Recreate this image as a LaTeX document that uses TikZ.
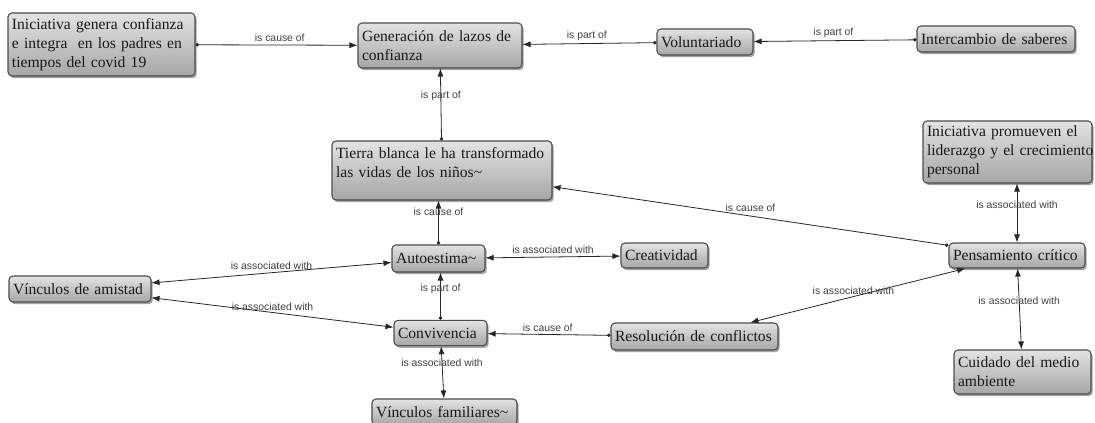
\documentclass[tikz,border=0pt]{standalone}
\usepackage{fontspec}
\setmainfont{Liberation Serif}
\newfontfamily\lblfont{Liberation Sans}
\usetikzlibrary{arrows.meta,shadows}
\begin{document}
\begin{tikzpicture}[x=0.75pt,y=-0.75pt,
  cbox/.style={draw=black!70, line width=0.8pt, rounded corners=3pt,
    top color=gray!22, bottom color=gray!70,
    drop shadow={shadow xshift=1.3pt, shadow yshift=-1.6pt, opacity=0.45, fill=black!80},
    align=left, inner xsep=3pt, inner ysep=1pt,
    font=\fontsize{11.7}{14.1}\selectfont, text=black!90},
  lbl/.style={font=\lblfont\fontsize{7.8}{9}\selectfont, text=black!75, inner sep=1pt},
  rel/.style={draw=black!85, line width=0.6pt, {Circle[length=2.6pt]}-{Latex[length=6pt,width=4.5pt]}},
  assoc/.style={draw=black!85, line width=0.6pt, {Latex[length=6pt,width=4.5pt]}-{Latex[length=6pt,width=4.5pt]}}]

\useasboundingbox[fill=white] (0,0) rectangle (1095,423);

\node[cbox, text width=134.25pt, minimum height=47.25pt] (ini1) at (101.5,44.5)
  {\mbox{Iniciativa genera confianza}\\\mbox{e integra \ en los padres en}\\tiempos del covid 19};
\node[cbox, text width=117pt, minimum height=33.75pt] (gen) at (440,45.5)
  {\mbox{Generación de lazos de}\\confianza};
\node[cbox, text width=66pt, minimum height=19.5pt] (vol) at (705,42) {\mbox{Voluntariado}};
\node[cbox, text width=112.5pt, minimum height=19.5pt] (int) at (996,39) {\mbox{Intercambio de saberes}};
\node[cbox, text width=159pt, minimum height=44.25pt] (tierra) at (442,170.5)
  {\mbox{Tierra blanca le ha transformado}\\\mbox{las vidas de los niños\textasciitilde}\par\vspace*{12pt}};
\node[cbox, text width=120.75pt, minimum height=46.5pt] (iniP) at (1007.5,152)
  {\mbox{Iniciativa promueven el}\\\mbox{liderazgo y el crecimiento}\\personal};
\node[cbox, text width=96pt, minimum height=18.75pt] (pens) at (1017,255.5) {\mbox{Pensamiento crítico}};
\node[cbox, text width=63.75pt, minimum height=20.25pt] (aut) at (438.5,258.5) {\mbox{Autoestima\textasciitilde}};
\node[cbox, text width=59.25pt, minimum height=18.75pt] (creat) at (664.5,255.5) {\mbox{Creatividad}};
\node[cbox, text width=100.5pt, minimum height=19.5pt] (amistad) at (80,289) {\mbox{Vínculos de amistad}};
\node[cbox, text width=63.75pt, minimum height=19pt] (conv) at (440.5,333) {\mbox{Convivencia}};
\node[cbox, text width=119.25pt, minimum height=20.25pt] (res) at (694.5,336.5) {\mbox{Resolución de conflictos}};
\node[cbox, text width=102.75pt, minimum height=19.5pt] (fam) at (444.5,412) {\mbox{Vínculos familiares\textasciitilde}};
\node[cbox, text width=96.75pt, minimum height=33pt] (cuid) at (1022.5,372) {\mbox{Cuidado del medio}\\ambiente};

\draw[rel] (ini1) -- node[lbl, pos=0.52, above=1pt] {is cause of} (gen);
\draw[rel] (vol) -- node[lbl, pos=0.52, above=1pt] {is part of} (gen);
\draw[rel] (int) -- node[lbl, pos=0.51, above=1pt] {is part of} (vol);
\draw[rel] (tierra) -- node[lbl, pos=0.62] {is part of} (gen);
\draw[rel] (aut.north) -- node[lbl, pos=0.74] {is cause of} (aut.north |- tierra.south);
\draw[rel] (pens) -- node[lbl, pos=0.5, above=2pt] {is cause of} (tierra);
\draw[assoc] (aut) -- node[lbl, pos=0.5, above=1pt] {is associated with} (creat);
\draw[assoc] (aut) -- node[lbl, pos=0.5, above=1pt] {is associated with} (amistad);
\draw[assoc] (conv) -- node[lbl, pos=0.5, above=0pt] {is associated with} (amistad);
\draw[rel] (conv.north) -- node[lbl, pos=0.66] {is part of} (conv.north |- aut.south);
\draw[rel] (res) -- node[lbl, pos=0.51, above=1pt] {is cause of} (conv);
\draw[assoc] (conv) -- node[lbl, pos=0.32] {is associated with} (fam);
\draw[assoc] (pens) -- node[lbl, pos=0.52, above=0pt] {is associated with} (res);
\draw[assoc] (pens.north) -- node[lbl, pos=0.64] {is associated with} (pens.north |- iniP.south);
\draw[assoc] (pens) -- node[lbl, pos=0.40] {is associated with} (cuid);
\end{tikzpicture}
\end{document}
